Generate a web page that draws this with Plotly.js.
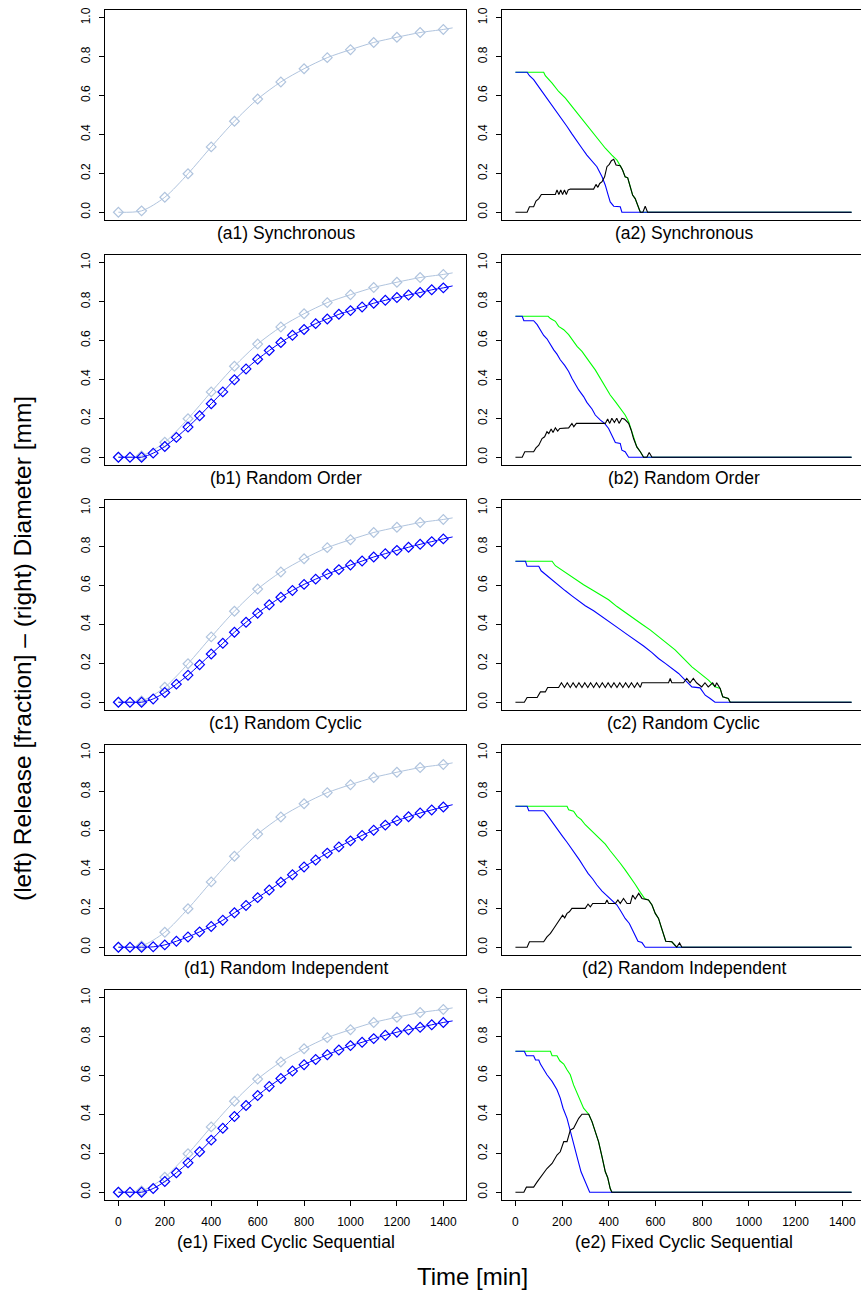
<!DOCTYPE html>
<html>
<head>
<meta charset="utf-8">
<script src="https://cdn.plot.ly/plotly-3.0.1.min.js"></script>
<style>
html,body{margin:0;padding:0;overflow:hidden;background:#fff;}
#chart{width:866px;height:1290px;}
</style>
</head>
<body>
<div id="chart"></div>
<script>
// ---------------- DATA ----------------
// Left panels: release fraction
const T_REF = [0,100,200,300,400,500,600,700,800,900,1000,1100,1200,1300,1400,1440];
const REL_SYNC = [0,0.007,0.077,0.198,0.336,0.468,0.582,0.670,0.738,0.795,0.836,0.873,0.900,0.924,0.940,0.948];
const T_50 = [0,50,100,150,200,250,300,350,400,450,500,550,600,650,700,750,800,850,900,950,1000,1050,1100,1150,1200,1250,1300,1350,1400,1440];
const REL_ORDER  = [0,0,0,0.021,0.055,0.102,0.155,0.213,0.275,0.336,0.398,0.454,0.504,0.549,0.590,0.627,0.657,0.687,0.711,0.735,0.754,0.773,0.792,0.807,0.821,0.834,0.847,0.861,0.871,0.881];
const REL_CYCLIC = [0,0,0,0.017,0.050,0.093,0.139,0.193,0.248,0.303,0.360,0.411,0.458,0.501,0.540,0.575,0.606,0.633,0.659,0.682,0.706,0.726,0.747,0.764,0.781,0.797,0.812,0.826,0.840,0.850];
const REL_INDEP  = [0,0,0,0.002,0.012,0.031,0.053,0.079,0.107,0.139,0.177,0.215,0.255,0.294,0.334,0.373,0.413,0.449,0.484,0.516,0.547,0.575,0.602,0.628,0.651,0.671,0.690,0.706,0.721,0.733];
const REL_FIXED  = [0,0,0,0.019,0.055,0.100,0.151,0.208,0.268,0.329,0.389,0.446,0.497,0.544,0.585,0.623,0.656,0.683,0.707,0.731,0.754,0.771,0.790,0.807,0.823,0.836,0.848,0.861,0.873,0.881];

// Right panels: diameter [mm]  (green, blue, black series)
const A2_GREEN_T = [0,121,128,157,185,214,242,271,299,328,356,385,413,435,449,459,470,481,492,502,513,523,535,1440];
const A2_GREEN_V = [0.72,0.72,0.702,0.664,0.621,0.587,0.544,0.501,0.458,0.415,0.372,0.329,0.294,0.268,0.239,0.217,0.182,0.177,0.131,0.088,0.07,0.036,0,0];
const A2_BLUE_T = [0,50,60,78,93,114,135,157,178,200,221,242,264,285,306,328,349,371,385,396,406,421,449,456,1440];
const A2_BLUE_V = [0.72,0.72,0.702,0.682,0.656,0.621,0.587,0.552,0.518,0.475,0.441,0.403,0.368,0.329,0.294,0.265,0.234,0.182,0.139,0.093,0.053,0.031,0.028,0,0];
const A2_BLACK_T = [0,50,60,78,88,100,111,171,178,186,194,202,210,218,226,235,335,345,353,361,371,382,392,402,411,421,431,449,459,470,481,492,502,513,523,535,546,556,566,1440];
const A2_BLACK_V = [0,0,0.028,0.028,0.057,0.07,0.091,0.091,0.115,0.091,0.115,0.091,0.115,0.091,0.115,0.119,0.119,0.143,0.128,0.148,0.157,0.182,0.234,0.246,0.265,0.272,0.243,0.239,0.217,0.182,0.177,0.131,0.088,0.07,0.036,0,0,0.031,0,0];

const B2_GREEN_T = [0,140,150,171,185,207,228,242,264,285,299,321,342,364,385,406,428,449,470,485,496,506,520,535,549,1440];
const B2_GREEN_V = [0.725,0.725,0.713,0.699,0.673,0.656,0.630,0.604,0.570,0.544,0.518,0.484,0.449,0.406,0.363,0.320,0.286,0.251,0.217,0.182,0.139,0.096,0.053,0.028,0,0];
const B2_BLUE_T = [0,29,36,78,93,107,121,135,150,164,178,192,211,228,242,257,271,292,306,328,342,364,382,399,413,428,449,456,470,485,1440];
const B2_BLUE_V = [0.725,0.725,0.702,0.702,0.682,0.656,0.626,0.609,0.578,0.552,0.530,0.501,0.472,0.441,0.406,0.372,0.346,0.312,0.282,0.248,0.217,0.191,0.174,0.148,0.110,0.076,0.071,0.036,0.028,0,0];
const B2_BLACK_T = [0,29,40,78,88,100,114,125,135,143,153,161,171,181,190,207,228,242,250,261,385,395,404,413,424,434,444,456,467,485,496,506,520,535,549,563,573,585,1440];
const B2_BLACK_V = [0,0,0.028,0.028,0.048,0.062,0.096,0.105,0.131,0.122,0.145,0.127,0.151,0.134,0.148,0.151,0.151,0.174,0.157,0.174,0.174,0.196,0.174,0.2,0.179,0.2,0.174,0.2,0.196,0.174,0.139,0.096,0.053,0.028,0,0,0.024,0,0];

const C2_GREEN_T = [0,157,171,200,228,257,292,328,364,399,435,470,506,542,577,613,649,684,720,756,791,827,855,877,888,912,920,1440];
const C2_GREEN_V = [0.725,0.725,0.702,0.678,0.656,0.633,0.604,0.578,0.552,0.527,0.492,0.461,0.432,0.401,0.372,0.337,0.303,0.269,0.225,0.182,0.148,0.114,0.079,0.071,0.028,0.019,0,0];
const C2_BLUE_T = [0,43,50,100,110,135,161,185,214,242,271,299,335,371,406,442,478,513,549,585,613,642,670,699,727,756,791,813,834,855,1440];
const C2_BLUE_V = [0.725,0.725,0.699,0.699,0.676,0.651,0.625,0.599,0.573,0.547,0.522,0.496,0.470,0.441,0.410,0.380,0.349,0.320,0.289,0.255,0.225,0.200,0.174,0.148,0.114,0.079,0.074,0.036,0.019,0,0];
const C2_BLACK_T = [0,38,50,93,107,128,138,185,197,210,222,235,247,260,272,285,297,310,322,335,347,360,372,385,397,410,422,435,447,460,472,485,497,510,522,535,542,656,663,670,720,734,748,762,776,798,812,826,845,855,862,877,888,912,920,1440];
const C2_BLACK_V = [0,0,0.024,0.024,0.053,0.053,0.076,0.076,0.1,0.076,0.1,0.076,0.1,0.076,0.1,0.076,0.1,0.076,0.1,0.076,0.1,0.076,0.1,0.076,0.1,0.076,0.1,0.076,0.1,0.076,0.1,0.076,0.1,0.076,0.1,0.076,0.1,0.1,0.122,0.1,0.1,0.122,0.1,0.122,0.1,0.079,0.1,0.079,0.1,0.079,0.1,0.071,0.028,0.019,0,0];

const D2_GREEN_T = [0,221,228,249,264,282,299,321,342,364,385,406,428,449,470,492,513,535,553,570,585,599,613,624,634,644,670,691,1440];
const D2_GREEN_V = [0.725,0.725,0.707,0.699,0.673,0.656,0.630,0.604,0.578,0.552,0.530,0.496,0.466,0.432,0.398,0.363,0.324,0.282,0.251,0.243,0.217,0.174,0.148,0.105,0.071,0.031,0.028,0,0];
const D2_BLUE_T = [0,50,57,121,135,150,168,185,202,221,240,257,274,292,311,331,349,371,392,413,435,453,470,488,499,513,525,542,556,1440];
const D2_BLUE_V = [0.725,0.725,0.702,0.702,0.682,0.656,0.626,0.596,0.570,0.540,0.509,0.478,0.449,0.415,0.380,0.351,0.320,0.289,0.265,0.243,0.217,0.182,0.148,0.122,0.093,0.062,0.031,0.024,0,0];
const D2_BLACK_T = [0,50,60,121,135,150,164,178,192,202,211,221,231,242,299,311,321,331,385,392,399,428,439,449,463,478,492,502,513,528,542,556,570,585,599,613,624,634,644,670,691,703,713,1440];
const D2_BLACK_V = [0,0,0.028,0.028,0.053,0.071,0.096,0.122,0.148,0.165,0.151,0.174,0.182,0.2,0.2,0.222,0.208,0.225,0.225,0.243,0.225,0.225,0.243,0.225,0.251,0.225,0.225,0.268,0.248,0.277,0.251,0.248,0.243,0.217,0.174,0.148,0.105,0.071,0.031,0.028,0,0.022,0,0];

const E2_GREEN_T = [0,150,157,178,190,207,221,235,249,271,292,314,328,342,356,371,385,395,406,413,1440];
const E2_GREEN_V = [0.725,0.725,0.702,0.702,0.676,0.659,0.630,0.604,0.552,0.492,0.432,0.401,0.363,0.312,0.260,0.182,0.105,0.076,0.019,0,0];
const E2_BLUE_T = [0,38,47,78,86,100,107,121,135,157,178,192,204,221,235,249,264,281,299,318,1440];
const E2_BLUE_V = [0.725,0.725,0.702,0.702,0.680,0.680,0.659,0.630,0.604,0.570,0.527,0.484,0.432,0.380,0.312,0.251,0.182,0.105,0.053,0,0];
const E2_BLACK_T = [0,36,47,78,93,114,135,157,178,192,207,221,235,249,271,285,314,328,342,356,371,385,395,406,413,1440];
const E2_BLACK_V = [0,0,0.026,0.026,0.053,0.088,0.122,0.148,0.191,0.208,0.260,0.260,0.320,0.329,0.380,0.401,0.401,0.363,0.312,0.260,0.182,0.105,0.076,0.019,0,0];

const PANEL_LABELS = [
  ["(a1) Synchronous", "(a2) Synchronous"],
  ["(b1) Random Order", "(b2) Random Order"],
  ["(c1) Random Cyclic", "(c2) Random Cyclic"],
  ["(d1) Random Independent", "(d2) Random Independent"],
  ["(e1) Fixed Cyclic Sequential", "(e2) Fixed Cyclic Sequential"]
];
const X_TICKS = [0,200,400,600,800,1000,1200,1400];
const Y_TICKS = [0,0.2,0.4,0.6,0.8,1.0];
const Y_TICK_TEXT = ["0.0","0.2","0.4","0.6","0.8","1.0"];
const Y_TITLE = "(left) Release [fraction] \u2013 (right) Diameter [mm]";
const X_TITLE = "Time [min]";

const LEFT_SERIES = [null, REL_ORDER, REL_CYCLIC, REL_INDEP, REL_FIXED];
const RIGHT_SERIES = [
  [[A2_GREEN_T,A2_GREEN_V],[A2_BLUE_T,A2_BLUE_V],[A2_BLACK_T,A2_BLACK_V]],
  [[B2_GREEN_T,B2_GREEN_V],[B2_BLUE_T,B2_BLUE_V],[B2_BLACK_T,B2_BLACK_V]],
  [[C2_GREEN_T,C2_GREEN_V],[C2_BLUE_T,C2_BLUE_V],[C2_BLACK_T,C2_BLACK_V]],
  [[D2_GREEN_T,D2_GREEN_V],[D2_BLUE_T,D2_BLUE_V],[D2_BLACK_T,D2_BLACK_V]],
  [[E2_GREEN_T,E2_GREEN_V],[E2_BLUE_T,E2_BLUE_V],[E2_BLACK_T,E2_BLACK_V]]
];

// ---------------- LAYOUT ----------------
const W = 866, H = 1290;
const FONT = "Liberation Sans, Arial, Helvetica, sans-serif";
const COL_X = [[105,466],[502,865]];
const ROW_Y = [[10,220],[255,465],[500,710],[745,955],[990,1200]];
const LIGHT = "#b0c4de", BLUE = "#0000ff", GREEN = "#00ff00", BLACK = "#000000";

const traces = [];
const layout = {
  width: W, height: H,
  margin: {l:0, r:0, t:0, b:0},
  paper_bgcolor: "#fff", plot_bgcolor: "#fff",
  showlegend: false,
  font: {family: FONT, color: "#000"},
  annotations: []
};

function ax(n){ return n === 1 ? "" : String(n); }

for (let r = 0; r < 5; r++) {
  for (let c = 0; c < 2; c++) {
    const n = r*2 + c + 1;
    const xa = "x" + ax(n), ya = "y" + ax(n);
    const bottom = (r === 4);
    layout["xaxis" + ax(n)] = {
      domain: [COL_X[c][0]/W, COL_X[c][1]/W],
      anchor: ya,
      range: [-57.6, 1497.6],
      showgrid: false, zeroline: false,
      showline: true, mirror: true, linecolor: "#000", linewidth: 1,
      tickmode: "array", tickvals: bottom ? X_TICKS : [],
      ticks: bottom ? "outside" : "", ticklen: 5, tickwidth: 1, tickcolor: "#000",
      showticklabels: bottom,
      ticklabelstandoff: 6,
      tickfont: {family: FONT, size: 12, color: "#000"},
      fixedrange: true
    };
    layout["yaxis" + ax(n)] = {
      domain: [1 - ROW_Y[r][1]/H, 1 - ROW_Y[r][0]/H],
      anchor: xa,
      range: [-0.04, 1.04],
      showgrid: false, zeroline: false,
      showline: true, mirror: true, linecolor: "#000", linewidth: 1,
      tickmode: "array", tickvals: Y_TICKS, ticktext: Y_TICK_TEXT,
      ticks: "outside", ticklen: 5, tickwidth: 1, tickcolor: "#000",
      tickangle: -90,
      ticklabelstandoff: 4,
      tickfont: {family: FONT, size: 12, color: "#000"},
      fixedrange: true
    };
    // panel label
    layout.annotations.push({
      text: PANEL_LABELS[r][c],
      xref: xa + " domain", x: 0.5, xanchor: "center",
      yref: "paper", y: 1 - (ROW_Y[r][1] + (bottom ? 42 : 13))/H, yanchor: "middle",
      showarrow: false,
      font: {family: FONT, size: 17.5, color: "#000"}
    });

    if (c === 0) {
      // reference (synchronous) curve, light
      traces.push({x: T_REF, y: REL_SYNC, xaxis: xa, yaxis: ya, type: "scatter", mode: "lines",
        line: {color: LIGHT, width: 1, shape: "spline", smoothing: 0.8}, hoverinfo: "skip"});
      traces.push({x: T_REF.slice(0, -1), y: REL_SYNC.slice(0, -1), xaxis: xa, yaxis: ya, type: "scatter", mode: "markers",
        marker: {symbol: "diamond-open", size: 7.5, color: LIGHT, line: {color: LIGHT, width: 1.2}}, hoverinfo: "skip"});
      const s = LEFT_SERIES[r];
      if (s) {
        traces.push({x: T_50, y: s, xaxis: xa, yaxis: ya, type: "scatter", mode: "lines",
          line: {color: BLUE, width: 1, shape: "spline", smoothing: 0.8}, hoverinfo: "skip"});
        traces.push({x: T_50.slice(0, -1), y: s.slice(0, -1), xaxis: xa, yaxis: ya, type: "scatter", mode: "markers",
          marker: {symbol: "diamond-open", size: 7.5, color: BLUE, line: {color: BLUE, width: 1.2}}, hoverinfo: "skip"});
      }
    } else {
      const [g, b, k] = RIGHT_SERIES[r];
      traces.push({x: g[0], y: g[1], xaxis: xa, yaxis: ya, type: "scatter", mode: "lines",
        line: {color: GREEN, width: 1.1}, hoverinfo: "skip"});
      traces.push({x: b[0], y: b[1], xaxis: xa, yaxis: ya, type: "scatter", mode: "lines",
        line: {color: BLUE, width: 1.1}, hoverinfo: "skip"});
      traces.push({x: k[0], y: k[1], xaxis: xa, yaxis: ya, type: "scatter", mode: "lines",
        line: {color: BLACK, width: 1.1}, hoverinfo: "skip"});
    }
  }
}

// outer titles
layout.annotations.push({
  text: X_TITLE, xref: "paper", yref: "paper",
  x: 472/W, y: 1 - 1276/H, xanchor: "center", yanchor: "middle",
  showarrow: false, font: {family: FONT, size: 24, color: "#000"}
});
layout.annotations.push({
  text: Y_TITLE, xref: "paper", yref: "paper",
  x: 22/W, y: 1 - 649/H, xanchor: "center", yanchor: "middle", textangle: -90,
  showarrow: false, font: {family: FONT, size: 24.5, color: "#000"}
});

Plotly.newPlot("chart", traces, layout, {staticPlot: true, displayModeBar: false});
</script>
</body>
</html>
